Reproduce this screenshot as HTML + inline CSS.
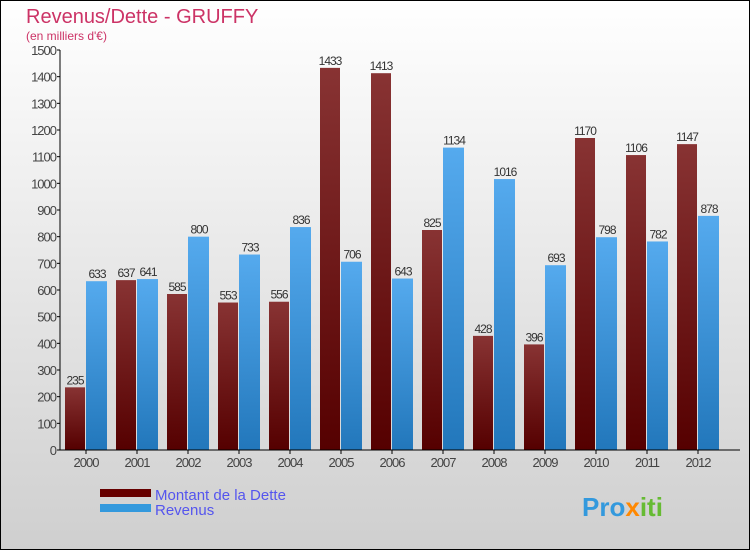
<!DOCTYPE html>
<html><head><meta charset="utf-8"><style>
body{margin:0}
svg{display:block;font-family:"Liberation Sans",sans-serif}
</style></head><body>
<svg id="c" width="750" height="550" xmlns="http://www.w3.org/2000/svg">
<defs>
<linearGradient id="bg" x1="0" y1="0" x2="0" y2="1"><stop offset="0" stop-color="#ffffff"/><stop offset="1" stop-color="#cfcfcf"/></linearGradient>
<linearGradient id="gd" x1="0" y1="0" x2="0" y2="1"><stop offset="0" stop-color="#883333"/><stop offset="1" stop-color="#550000"/></linearGradient>
<linearGradient id="gr" x1="0" y1="0" x2="0" y2="1"><stop offset="0" stop-color="#55aaee"/><stop offset="1" stop-color="#2277bb"/></linearGradient>
</defs>
<rect x="0.5" y="0.5" width="749" height="549" fill="url(#bg)" stroke="#000"/>
<text x="26" y="23" font-size="20" fill="#cc3366">Revenus/Dette - GRUFFY</text>
<text x="26" y="40" font-size="12" fill="#cc3366">(en milliers d'€)</text>
<g id="plot"></g>
<rect x="100" y="489" width="51" height="8" fill="#660000"/>
<text x="155" y="500" font-size="15" fill="#5555ee">Montant de la Dette</text>
<rect x="100" y="504" width="51" height="8" fill="#3399dd"/>
<text x="155" y="515" font-size="15" fill="#5555ee">Revenus</text>
<text x="582" y="516" font-size="26" font-weight="bold" fill="#3399dd">Pro<tspan fill="#ff8800">x</tspan><tspan fill="#66bb33">iti</tspan></text>
</svg>
<script>
const years=["2000","2001","2002","2003","2004","2005","2006","2007","2008","2009","2010","2011","2012"];
const dette=[235,637,585,553,556,1433,1413,825,428,396,1170,1106,1147];
const revenus=[633,641,800,733,836,706,643,1134,1016,693,798,782,878];
const ticks=[0,100,200,300,400,500,600,700,800,900,1000,1100,1200,1300,1400,1500];
const NS="http://www.w3.org/2000/svg";
const g=document.getElementById('plot');
const y=v=>450-v*400/1500;
const xc=i=>86+i*51;
function mk(t,a,txt){const e=document.createElementNS(NS,t);for(const k in a)e.setAttribute(k,a[k]);if(txt!==undefined)e.textContent=txt;g.appendChild(e);return e;}
ticks.forEach(t=>{
 const l=mk('line',{x1:57,x2:60,y1:y(t),y2:y(t),stroke:'#000'});
 
 
 const tx=mk('text',{x:56,y:y(t)+5,'font-size':13,fill:'#444','text-anchor':'end','letter-spacing':'-1'},t);
 
 
});
years.forEach((yr,i)=>{
 const c=xc(i);
 const b1=mk('rect',{x:c-21,y:y(dette[i]),width:20,height:450-y(dette[i]),fill:'url(#gd)'});
 
 
 const b2=mk('rect',{x:c,y:y(revenus[i]),width:21,height:450-y(revenus[i]),fill:'url(#gr)'});
 
 
 const l1=mk('text',{x:c-11,y:y(dette[i])-3,'font-size':12,fill:'#333','text-anchor':'middle','letter-spacing':'-1'},dette[i]);
 
 
 const l2=mk('text',{x:c+11,y:y(revenus[i])-3,'font-size':12,fill:'#333','text-anchor':'middle','letter-spacing':'-1'},revenus[i]);
 
 
 const tk=mk('line',{x1:c,x2:c,y1:450,y2:454,stroke:'#000'});
 
 
 const xl=mk('text',{x:c,y:467,'font-size':13,fill:'#444','text-anchor':'middle','letter-spacing':'-1'},yr);
 
 
});
const ya=mk('line',{x1:60,x2:60,y1:50,y2:450,stroke:'#000'});


const xa=mk('line',{x1:60,x2:740,y1:450,y2:450,stroke:'#000'});


</script>
</body></html>
